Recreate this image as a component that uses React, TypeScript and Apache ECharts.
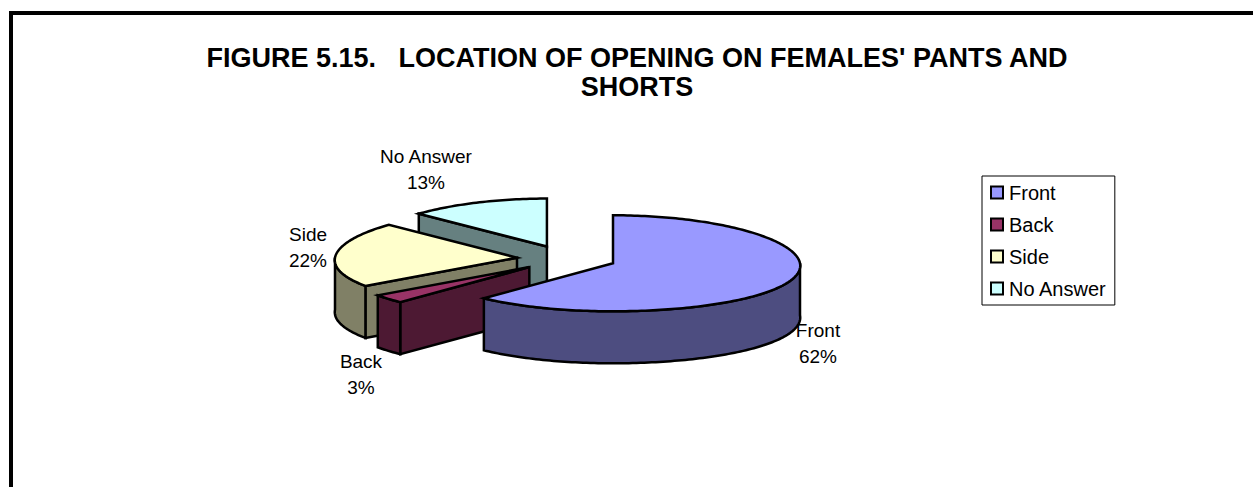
import React, { useEffect, useRef } from "react";
import * as echarts from "echarts";

const categories = ["Front", "Back", "Side", "No Answer"];
const percentages = [62, 3, 22, 13];
const topColors = ["#9999FF", "#993366", "#FFFFCC", "#CCFFFF"];
const wallColors = ["#4D4D80", "#4D1933", "#808066", "#668080"];
const chartTitle = "FIGURE 5.15.   LOCATION OF OPENING ON FEMALES' PANTS AND\nSHORTS";
const drawOrder = [3, 2, 1, 0];

const FONT = "'Liberation Sans', Arial, sans-serif";
const PIE = { cx: 566.7, cy: 258.5, rxLeft: 182, rxRight: 187, ry: 48, depth: 52, explode: 49.8, explodeY: 13, perspective: 0.05 };
const labelAnchors: number[][] = [[818, 343], [361, 374], [308, 247], [426, 169]];

const total = percentages.reduce((a, b) => a + b, 0);

function sliceAngles(i: number) {
  let before = 0;
  for (let k = 0; k < i; k++) before += percentages[k];
  return {
    start: (before / total) * Math.PI * 2,
    end: ((before + percentages[i]) / total) * Math.PI * 2,
  };
}

function renderSlice(i: number) {
  const { start, end } = sliceAngles(i);
  const mid = (start + end) / 2;
  const ax = PIE.cx + PIE.explode * Math.sin(mid);
  const ay = PIE.cy - PIE.explodeY * Math.cos(mid);
  const pt = (a: number, dy = 0): number[] => {
    const s = Math.sin(a);
    const rx = s >= 0 ? PIE.rxRight : PIE.rxLeft;
    return [ax + rx * s * (1 - PIE.perspective * Math.cos(a)), ay - PIE.ry * Math.cos(a) + dy];
  };
  const arc = (a: number, b: number, dy = 0) => {
    const n = Math.max(2, Math.ceil(Math.abs(b - a) / 0.02));
    const out: number[][] = [];
    for (let k = 0; k <= n; k++) out.push(pt(a + ((b - a) * k) / n, dy));
    return out;
  };
  const stroke = { stroke: "#000", lineWidth: 2.5, lineJoin: "miter", miterLimit: 6 };
  const wallStyle = { fill: wallColors[i], ...stroke };
  const children: any[] = [];
  const d = PIE.depth;
  const face = (a: number) => ({
    type: "polygon",
    shape: { points: [[ax, ay], pt(a), pt(a, d), [ax, ay + d]] },
    style: wallStyle,
  });
  if (Math.sin(start) < -1e-6) children.push(face(start));
  if (Math.sin(end) > 1e-6) children.push(face(end));
  const wa = Math.max(start, Math.PI / 2);
  const wb = Math.min(end, (Math.PI * 3) / 2);
  if (wb > wa) {
    children.push({
      type: "polygon",
      shape: { points: [...arc(wa, wb), ...arc(wb, wa, d)] },
      style: wallStyle,
    });
  }
  children.push({
    type: "polygon",
    shape: { points: [[ax, ay], ...arc(start, end)] },
    style: { fill: topColors[i], ...stroke },
  });
  children.push({
    type: "text",
    x: labelAnchors[i][0],
    y: labelAnchors[i][1],
    style: {
      text: `${categories[i]}\n${percentages[i]}%`,
      fill: "#000",
      font: `19px ${FONT}`,
      lineHeight: 26,
      align: "center",
      verticalAlign: "middle",
    },
  });
  return { type: "group", children };
}

export default function App() {
  const ref = useRef<HTMLDivElement>(null);
  useEffect(() => {
    const chart = echarts.init(ref.current!, null, { renderer: "svg" });
    chart.setOption({
      animation: false,
      backgroundColor: "#fff",
      title: {
        text: chartTitle,
        left: 632,
        top: 38.5,
        textAlign: "center",
        textStyle: { fontFamily: FONT, fontSize: 27, fontWeight: "bold", color: "#000", lineHeight: 29 },
      },
      legend: {
        orient: "vertical",
        left: 982,
        top: 176,
        padding: [5, 8, 5, 8],
        itemGap: 9,
        itemWidth: 12,
        itemHeight: 12,
        icon: "rect",
        selectedMode: false,
        borderColor: "#000",
        borderWidth: 1,
        backgroundColor: "#fff",
        data: categories,
        textStyle: { fontFamily: FONT, fontSize: 20, color: "#000", lineHeight: 23, padding: [0, 0, 0, 1] },
      },
      graphic: [
        {
          type: "rect",
          z: -1,
          shape: { x: 11, y: 13, width: 1300, height: 500 },
          style: { fill: "#fff", stroke: "#000", lineWidth: 4 },
          silent: true,
        },
      ],
      series: drawOrder.map((i) => ({
        type: "custom",
        name: categories[i],
        coordinateSystem: "none",
        z: 2,
        itemStyle: { color: topColors[i], borderColor: "#000", borderWidth: 2 },
        data: [[percentages[i]]],
        renderItem: () => renderSlice(i),
      })),
    });
    return () => chart.dispose();
  }, []);
  return <div ref={ref} style={{ position: "absolute", left: 0, top: 0, width: 1253, height: 487 }} />;
}
